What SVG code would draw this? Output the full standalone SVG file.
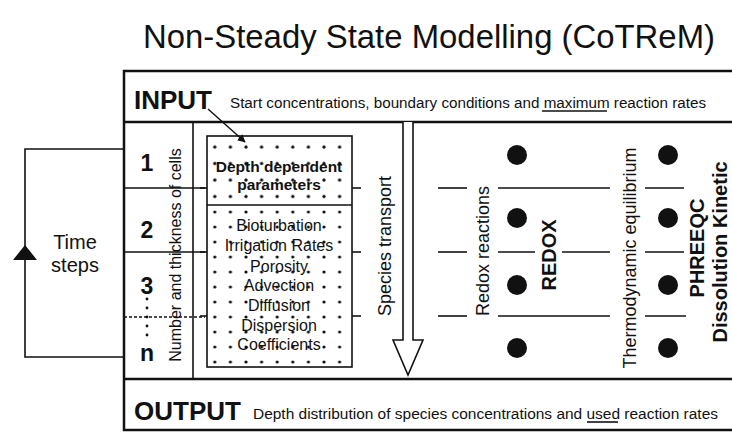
<svg xmlns="http://www.w3.org/2000/svg" width="732" height="432" viewBox="0 0 732 432">
  <style>
    text { font-family: "Liberation Sans", Arial, sans-serif; fill: #111; }
    .frame { fill: none; stroke: #111; stroke-width: 2.5; }
    .thin { fill: none; stroke: #111; stroke-width: 1.6; }
    .rowline { stroke: #111; stroke-width: 1.6; }
    .dot { fill: #111; }
    .num { font-size: 23px; font-weight: bold; text-anchor: middle; }
    .par { font-size: 16px; text-anchor: middle; }
    .parb { font-size: 15.5px; font-weight: bold; text-anchor: middle; }
    .vert { font-size: 18px; text-anchor: middle; }
    .vertb { font-size: 20px; font-weight: bold; text-anchor: middle; }
    .head { font-size: 26px; font-weight: bold; }
    .note { font-size: 14px; }
    .loop { font-size: 20px; text-anchor: middle; }
  </style>
  <defs>
    <pattern id="dotsTop" patternUnits="userSpaceOnUse" x="207" y="139" width="15.6" height="16.5">
      <circle cx="7.8" cy="8" r="1.6" fill="#111"/>
    </pattern>
    <pattern id="dotsLow" patternUnits="userSpaceOnUse" x="207" y="205" width="15.6" height="15">
      <circle cx="7.8" cy="7" r="1.6" fill="#111"/>
    </pattern>
    <marker id="arrowHead" viewBox="0 0 10 10" refX="9" refY="5" markerWidth="8" markerHeight="8" orient="auto" markerUnits="userSpaceOnUse">
      <path d="M0,0 L10,5 L0,10 Z" fill="#111"/>
    </marker>
  </defs>

  <rect width="732" height="432" fill="#fff"/>

  <!-- title -->
  <text id="title" x="143" y="48" font-size="33" textLength="572" lengthAdjust="spacingAndGlyphs">Non-Steady State Modelling (CoTReM)</text>

  <!-- outer frame with input and output rows -->
  <g id="frame">
    <path class="frame" d="M734,71 H124 V430 H734"/>
    <line class="frame" x1="124" y1="122" x2="734" y2="122"/>
    <line class="frame" x1="124" y1="379" x2="734" y2="379"/>
  </g>

  <g id="input">
    <text class="head" x="134" y="109">INPUT</text>
    <text class="note" x="230" y="108" textLength="476" lengthAdjust="spacingAndGlyphs">Start concentrations, boundary conditions and maximum reaction rates</text>
    <line class="rowline" x1="542" y1="111" x2="607" y2="111" stroke-width="1.2"/>
  </g>

  <g id="output">
    <text class="head" x="134" y="420">OUTPUT</text>
    <text class="note" x="253" y="419" textLength="465" lengthAdjust="spacingAndGlyphs">Depth distribution of  species concentrations and used reaction rates</text>
    <line class="rowline" x1="587" y1="422" x2="618" y2="422" stroke-width="1.2"/>
  </g>

  <!-- cell column -->
  <g id="cells">
    <line class="thin" x1="193" y1="122" x2="193" y2="379"/>
    <line class="rowline" x1="124" y1="188" x2="205" y2="188"/>
    <line class="rowline" x1="124" y1="252" x2="205" y2="252"/>
    <line class="rowline" x1="124" y1="317" x2="205" y2="317" stroke-dasharray="3,2"/>
    <text class="num" x="147" y="171">1</text>
    <text class="num" x="147" y="238">2</text>
    <text class="num" x="147" y="294">3</text>
    <circle class="dot" cx="147" cy="299" r="1.4"/>
    <circle class="dot" cx="147" cy="308" r="1.4"/>
    <circle class="dot" cx="147" cy="317" r="1.4"/>
    <circle class="dot" cx="147" cy="326" r="1.4"/>
    <circle class="dot" cx="147" cy="335" r="1.4"/>
    <text class="num" x="147" y="361">n</text>
    <text font-size="16" text-anchor="middle" transform="translate(181,255) rotate(-90)">Number and thickness of cells</text>
  </g>

  <!-- depth dependent parameter box -->
  <g id="parameters">
    <line class="rowline" x1="200" y1="188" x2="207" y2="188"/>
    <line class="rowline" x1="200" y1="252" x2="207" y2="252"/>
    <line class="rowline" x1="200" y1="316" x2="207" y2="316"/>
    <line class="rowline" x1="352" y1="188" x2="361" y2="188"/>
    <line class="rowline" x1="352" y1="252" x2="361" y2="252"/>
    <line class="rowline" x1="352" y1="316" x2="361" y2="316"/>
    <rect x="207" y="136" width="145" height="69" fill="url(#dotsTop)"/>
    <rect x="207" y="205" width="145" height="162" fill="url(#dotsLow)"/>
    <rect class="thin" x="207" y="136" width="145" height="231"/>
    <line class="thin" x1="207" y1="205" x2="352" y2="205"/>
    <text class="parb" x="279" y="172">Depth dependent</text>
    <text class="parb" x="279" y="190">parameters</text>
    <text class="par" x="279" y="231">Bioturbation</text>
    <text class="par" x="279" y="251">Irrigation Rates</text>
    <text class="par" x="279" y="272">Porosity</text>
    <text class="par" x="279" y="291">Advection</text>
    <text class="par" x="279" y="311">Diffusion</text>
    <text class="par" x="279" y="331">Dispersion</text>
    <text class="par" x="279" y="350">Coefficients</text>
  </g>

  <!-- species transport -->
  <g id="transport">
    <path d="M403,122 V340 H393 L408,375 L423,340 H413 V122" fill="#fff" stroke="#111" stroke-width="1.6"/>
    <text class="vert" transform="translate(391,246) rotate(-90)">Species transport</text>
  </g>

  <!-- redox reactions -->
  <g id="redox">
    <text class="vert" transform="translate(489,251) rotate(-90)">Redox reactions</text>
    <text class="vertb" transform="translate(556,255) rotate(-90)">REDOX</text>
    <circle class="dot" cx="517" cy="155" r="10"/>
    <circle class="dot" cx="517" cy="218" r="10"/>
    <circle class="dot" cx="517" cy="285" r="10"/>
    <circle class="dot" cx="517" cy="348" r="10"/>
  </g>

  <!-- thermodynamic equilibrium -->
  <g id="phreeqc">
    <text class="vert" transform="translate(636,258) rotate(-90)">Thermodynamic equilibrium</text>
    <text class="vertb" transform="translate(704,248) rotate(-90)">PHREEQC</text>
    <text class="vertb" font-size="19.5" transform="translate(727,252) rotate(-90)">Dissolution Kinetic</text>
    <circle class="dot" cx="668" cy="155" r="10"/>
    <circle class="dot" cx="668" cy="218" r="10"/>
    <circle class="dot" cx="668" cy="285" r="10"/>
    <circle class="dot" cx="668" cy="348" r="10"/>
  </g>

  <!-- time steps loop -->
  <g id="timesteps">
    <text class="loop" x="75" y="249">Time</text>
    <text class="loop" x="75" y="272">steps</text>
  </g>

  <g id="connectors">
    <path class="thin" stroke-width="2" d="M124,149 H25 V357 H124"/>
    <path d="M25,245 L37,260 H13 Z" fill="#111"/>
    <line x1="208" y1="109" x2="245" y2="142" stroke="#111" stroke-width="1.4" marker-end="url(#arrowHead)"/>
    <!-- cell boundaries across the reaction columns -->
    <g class="rowline">
      <line x1="438" y1="188" x2="467" y2="188"/>
      <line x1="438" y1="252" x2="467" y2="252"/>
      <line x1="438" y1="316" x2="467" y2="316"/>
      <line x1="498" y1="188" x2="610" y2="188"/>
      <line x1="498" y1="252" x2="535" y2="252"/>
      <line x1="562" y1="252" x2="610" y2="252"/>
      <line x1="498" y1="316" x2="610" y2="316"/>
      <line x1="645" y1="188" x2="684" y2="188"/>
      <line x1="645" y1="252" x2="684" y2="252"/>
      <line x1="645" y1="316" x2="686" y2="316"/>
    </g>
  </g>
</svg>
